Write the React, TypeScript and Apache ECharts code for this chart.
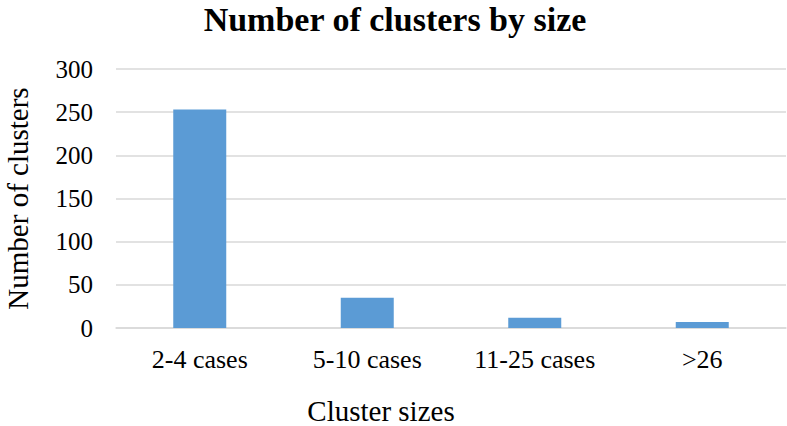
import React, { useEffect, useRef } from "react";
import * as echarts from "echarts";

const categories = ["2-4 cases", "5-10 cases", "11-25 cases", ">26"];
const clusterCounts = [253, 35, 12, 7];
const chartTitle = "Number of clusters by size";
const xAxisTitle = "Cluster sizes";
const yAxisTitle = "Number of clusters";

export default function App() {
  const ref = useRef<HTMLDivElement>(null);
  useEffect(() => {
    if (!ref.current) return;
    const chart = echarts.init(ref.current, undefined, { renderer: "svg" });
    const font = "'Liberation Serif', 'Times New Roman', serif";
    chart.setOption({
      animation: false,
      backgroundColor: "#ffffff",
      title: {
        text: chartTitle,
        left: 395,
        top: 2,
        padding: 0,
        textAlign: "center",
        textStyle: { fontFamily: font, fontSize: 34, fontWeight: "bold", color: "#000" },
      },
      grid: {
        left: 116,
        right: 1,
        top: 69,
        bottom: 98,
        containLabel: false,
        outerBoundsMode: "none",
      },
      xAxis: {
        type: "category",
        data: categories,
        axisLine: { lineStyle: { color: "#d9d9d9", width: 1.5 } },
        axisTick: { show: false },
        axisLabel: { fontFamily: font, fontSize: 26, color: "#000", margin: 18 },
      },
      yAxis: {
        type: "value",
        min: 0,
        max: 300,
        interval: 50,
        name: yAxisTitle,
        nameLocation: "middle",
        nameGap: 84,
        nameTextStyle: { fontFamily: font, fontSize: 29, color: "#000" },
        axisLine: { show: false },
        axisTick: { show: false },
        axisLabel: { fontFamily: font, fontSize: 25, color: "#000", margin: 23 },
        splitLine: { lineStyle: { color: "#d9d9d9", width: 1.5 } },
      },
      graphic: [
        {
          type: "text",
          x: 381,
          y: 411,
          style: {
            text: xAxisTitle,
            fontFamily: font,
            fontSize: 29,
            fill: "#000",
            textAlign: "center",
            textVerticalAlign: "middle",
          },
        },
      ],
      series: [
        {
          type: "bar",
          data: clusterCounts,
          barWidth: 53,
          itemStyle: { color: "#5b9bd5" },
        },
      ],
    });
    return () => chart.dispose();
  }, []);
  return (
    <div
      ref={ref}
      style={{ position: "fixed", left: 0, top: 0, width: 787, height: 426 }}
    />
  );
}
